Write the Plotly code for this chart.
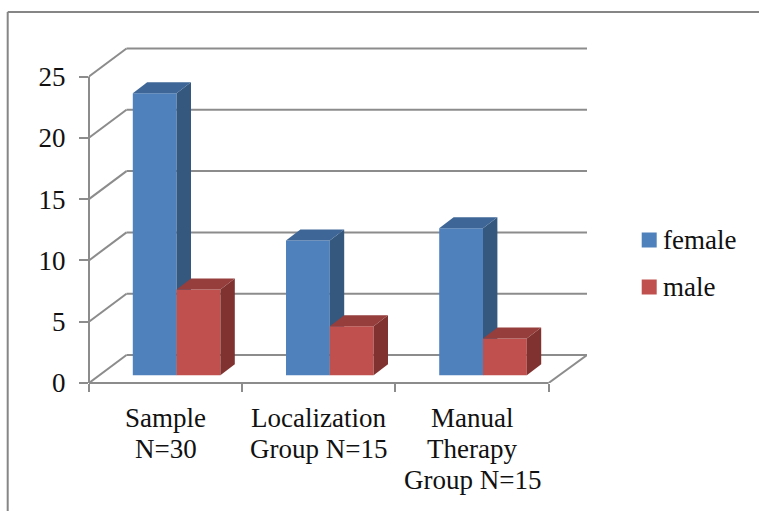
import plotly.graph_objects as go

categories = ["Sample<br>N=30", "Localization<br>Group N=15", "Manual<br>Therapy<br>Group N=15"]
female = [23, 11, 12]
male = [7, 4, 3]
y_ticks = [0, 5, 10, 15, 20, 25]
x_edges = [0, 1, 2, 3]

W, H = 759, 511
L, R, T, B = 89.3, 587.3, 40.0, 383.0
PX_X = 153.2   # pixels per category
PX_Y = 12.26   # pixels per value unit
DEPTH_X = 37.5 / PX_X
DEPTH_Y = 28.0 / PX_Y
BAR_W = 43.8 / PX_X
BAR_DX = 14.4 / PX_X
BAR_DY = 11.0 / PX_Y
BASE_DX = 11.0 / PX_X
BASE_DY = 7.7 / PX_Y
X_RANGE = [0, (R - L) / PX_X]
Y_RANGE = [0, (B - T) / PX_Y]

FONT = "Liberation Serif"
FS = 27
GREY = "#8c8c8c"
INK = "#111111"


def paper_x(px):
    return (px - L) / (R - L)


def paper_y(px):
    return (B - px) / (B - T)


fig = go.Figure()


def add_series(name, values, slot, front, top, side, xa, ya):
    centers = [i + 0.5 + BASE_DX + (slot - 0.5) * BAR_W for i in range(len(values))]
    fig.add_trace(go.Bar(
        x=centers, y=values, base=[BASE_DY] * len(values), width=BAR_W, name=name,
        marker=dict(color=front, line=dict(width=0)), showlegend=False,
        xaxis=xa, yaxis=ya,
    ))
    for c, v in zip(centers, values):
        x0, x1 = c - BAR_W / 2, c + BAR_W / 2
        y0, y1 = BASE_DY, BASE_DY + v
        fig.add_trace(go.Scatter(
            x=[x1, x1, x1 + BAR_DX, x1 + BAR_DX, x1],
            y=[y0, y1, y1 + BAR_DY, y0 + BAR_DY, y0],
            mode="lines", fill="toself", fillcolor=side, line=dict(width=0),
            showlegend=False, hoverinfo="skip", xaxis=xa, yaxis=ya,
        ))
        fig.add_trace(go.Scatter(
            x=[x0, x1, x1 + BAR_DX, x0 + BAR_DX, x0],
            y=[y1, y1, y1 + BAR_DY, y1 + BAR_DY, y1],
            mode="lines", fill="toself", fillcolor=top, line=dict(width=0),
            showlegend=False, hoverinfo="skip", xaxis=xa, yaxis=ya,
        ))


add_series("female", female, 0, "#4f81bd", "#3e6797", "#35587f", "x", "y")
add_series("male", male, 1, "#c0504d", "#953e3c", "#7f322f", "x2", "y2")

shapes = []
line = dict(color=GREY, width=2)
for t in y_ticks:
    shapes.append(dict(type="line", xref="x", yref="y", layer="below", x0=0, y0=t,
                       x1=DEPTH_X, y1=t + DEPTH_Y, line=line))
    shapes.append(dict(type="line", xref="x", yref="y", layer="below", x0=DEPTH_X, y0=t + DEPTH_Y,
                       x1=X_RANGE[1], y1=t + DEPTH_Y, line=line))
# axis lines sit on the plot edge; a paper reference on one side keeps them unclipped
shapes.append(dict(type="line", xref="paper", yref="paper", layer="above", x0=0, y0=0,
                   x1=0, y1=y_ticks[-1] * PX_Y / (B - T), line=line))
shapes.append(dict(type="line", xref="paper", yref="paper", layer="above", x0=0, y0=0,
                   x1=x_edges[-1] * PX_X / (R - L), y1=0, line=line))
shapes.append(dict(type="line", xref="x", yref="y", layer="below", x0=x_edges[-1], y0=0,
                   x1=X_RANGE[1], y1=DEPTH_Y, line=line))

# outer frame: only the left and top edges show, the rest runs off the page
frame = dict(color="#868686", width=2)
shapes.append(dict(type="line", xref="paper", yref="paper", x0=paper_x(8), y0=paper_y(12),
                   x1=paper_x(8), y1=paper_y(H + 5), line=frame))
shapes.append(dict(type="line", xref="paper", yref="paper", x0=paper_x(8), y0=paper_y(12),
                   x1=paper_x(W + 5), y1=paper_y(12), line=frame))

annotations = []
for i, label in enumerate(categories):
    for k, part in enumerate(label.split("<br>")):
        annotations.append(dict(text=part, xref="x", yref="paper", x=i + 0.5, y=0,
                                yanchor="middle", xanchor="center", showarrow=False,
                                yshift=-(35 + 31 * k), font=dict(family=FONT, size=FS, color=INK)))

# colour key
for name, color, cy in [("female", "#4f81bd", 240), ("male", "#c0504d", 287)]:
    shapes.append(dict(type="rect", xref="paper", yref="paper", x0=paper_x(642), x1=paper_x(657),
                       y0=paper_y(cy - 7.5), y1=paper_y(cy + 7.5), fillcolor=color, line=dict(width=0)))
    annotations.append(dict(text=name, xref="paper", yref="paper", x=paper_x(661), y=paper_y(cy),
                            xanchor="left", yanchor="middle", showarrow=False,
                            font=dict(family=FONT, size=FS, color=INK)))

fig.update_layout(
    width=W, height=H, autosize=False,
    margin=dict(l=L, r=W - R, t=T, b=H - B, pad=0),
    paper_bgcolor="white", plot_bgcolor="rgba(0,0,0,0)", showlegend=False,
    shapes=shapes, annotations=annotations, barmode="overlay",
    xaxis=dict(range=X_RANGE, showgrid=False, zeroline=False, showline=False,
               tickmode="array", tickvals=x_edges, ticktext=["", "", "", ""], ticks="outside",
               ticklen=8, tickwidth=2, tickcolor=GREY, showticklabels=True),
    yaxis=dict(range=Y_RANGE, showgrid=False, zeroline=False, showline=False,
               tickmode="array", tickvals=y_ticks, ticks="outside", ticklen=9, tickwidth=2,
               tickcolor=GREY, ticklabelstandoff=8, tickfont=dict(family=FONT, size=FS, color=INK)),
    xaxis2=dict(range=X_RANGE, overlaying="x", visible=False),
    yaxis2=dict(range=Y_RANGE, overlaying="y", visible=False),
)

fig.write_html("out.html", config={"displayModeBar": False},
               post_script="document.body.style.margin='0';")
